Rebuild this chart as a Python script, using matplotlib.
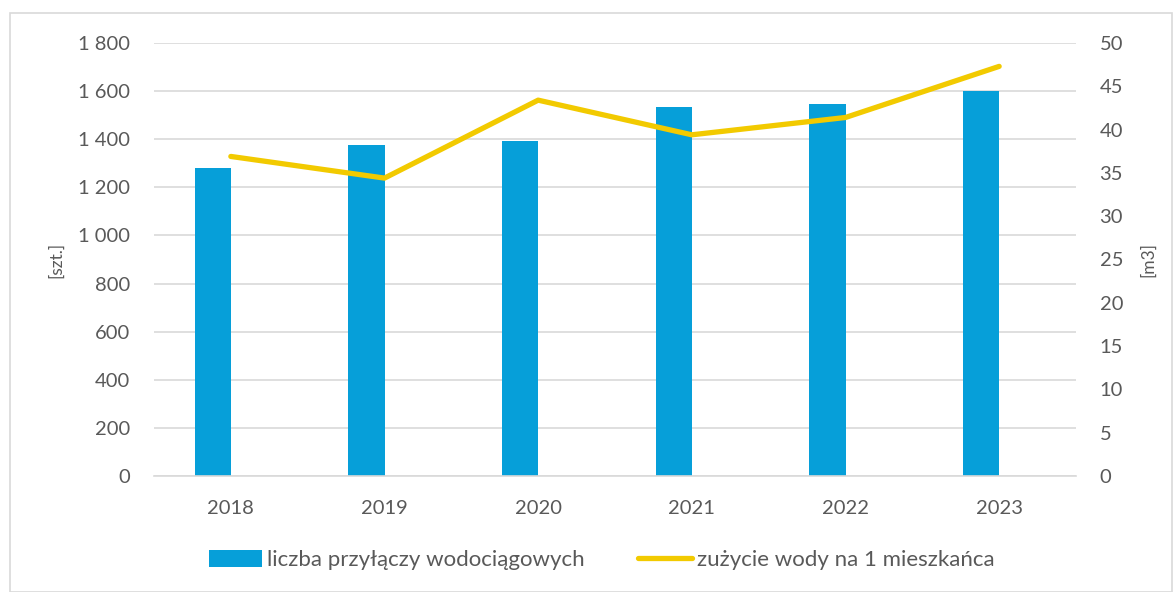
import matplotlib

matplotlib.use("Agg")

import matplotlib.pyplot as plt
import numpy as np
from matplotlib.lines import Line2D
from matplotlib.patches import Patch, Rectangle
from matplotlib.ticker import FuncFormatter

years = ["2018", "2019", "2020", "2021", "2022", "2023"]
connections = [1280, 1374, 1392, 1532, 1547, 1599]
water_per_person = [36.9, 34.4, 43.4, 39.4, 41.4, 47.3]

BAR_COLOR = "#069FD9"
LINE_COLOR = "#F2CA00"
GRID_COLOR = "#D9D9D9"
TEXT_COLOR = "#595959"

plt.rcParams["font.family"] = ["Lato", "DejaVu Sans"]

fig = plt.figure(figsize=(11.73, 5.92), dpi=100)
ax = fig.add_axes([154 / 1173, 1 - 476 / 592, (1076 - 154) / 1173, (476 - 43) / 592])

x = np.arange(len(years))
bar_width = 0.235
ax.bar(x, connections, width=-bar_width, align="edge", color=BAR_COLOR, zorder=2)

ax.set_xlim(-0.5, len(years) - 0.5)
ax.set_ylim(0, 1800)
ax.set_yticks(np.arange(0, 1801, 200))
ax.yaxis.set_major_formatter(FuncFormatter(lambda v, _: f"{int(v):,}".replace(",", " ")))
ax.set_xticks(x, years)
ax.grid(axis="y", color=GRID_COLOR, linewidth=1.2, zorder=0)
ax.set_axisbelow(True)
for side in ["top", "right", "left"]:
    ax.spines[side].set_visible(False)
ax.spines["bottom"].set_color(GRID_COLOR)
ax.spines["bottom"].set_linewidth(1.2)
ax.tick_params(axis="both", length=0, labelsize=14.5, labelcolor=TEXT_COLOR)
ax.tick_params(axis="y", pad=17)
ax.tick_params(axis="x", pad=17)
ax.set_ylabel("[szt.]", fontsize=12.5, color=TEXT_COLOR, labelpad=10)

ax2 = ax.twinx()
ax2.plot(x, water_per_person, color=LINE_COLOR, linewidth=3.8, solid_capstyle="round", zorder=3)
ax2.set_ylim(0, 50)
ax2.set_yticks(np.arange(0, 51, 5))
for side in ["top", "right", "left", "bottom"]:
    ax2.spines[side].set_visible(False)
ax2.tick_params(axis="y", length=0, labelsize=14.5, labelcolor=TEXT_COLOR, pad=17)
ax2.set_ylabel("[m3]", fontsize=12.5, color=TEXT_COLOR, labelpad=12)

handles = [
    Patch(facecolor=BAR_COLOR, edgecolor="none"),
    Line2D([0], [0], color=LINE_COLOR, linewidth=3.8, solid_capstyle="round"),
]
labels = ["liczba przyłączy wodociągowych", "zużycie wody na 1 mieszkańca"]
fig.legend(
    handles, labels, loc="center", bbox_to_anchor=(0.513, 1 - 560 / 592),
    ncol=2, frameon=False, fontsize=16, labelcolor=TEXT_COLOR,
    handlelength=2.4, handleheight=0.8, handletextpad=0.25, columnspacing=2.4,
)

fig.patches.append(Rectangle((10 / 1173, 0), 1 - 11 / 1173, 1 - 13 / 592,
                             transform=fig.transFigure, fill=False,
                             edgecolor=GRID_COLOR, linewidth=1.2))

fig.savefig("out.png", dpi=100)
